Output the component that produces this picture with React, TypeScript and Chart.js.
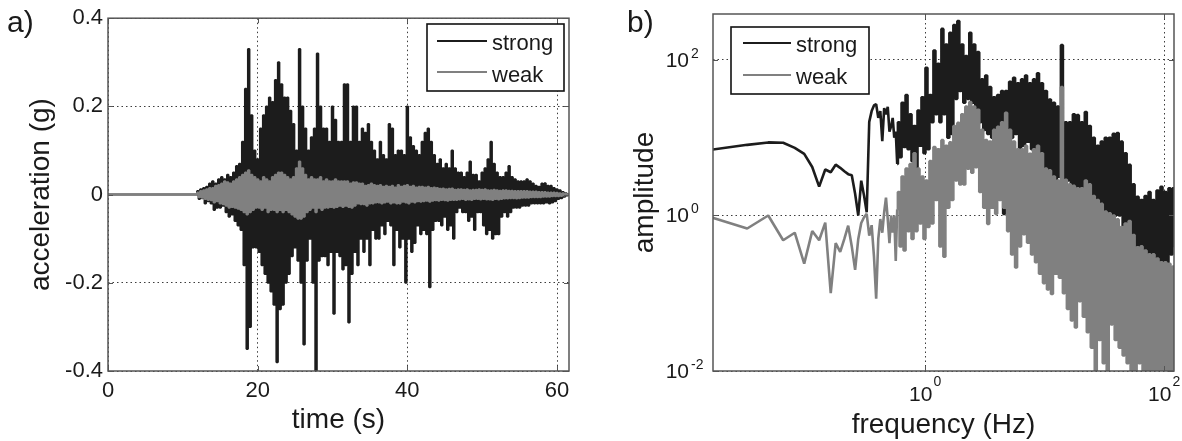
import React, { useEffect, useRef } from "react";
import { Chart, registerables } from "chart.js";

Chart.register(...registerables);

const FONT = '"Liberation Sans", Arial, Helvetica, sans-serif';
const TEXT = "#1a1a1a";
const STRONG_COLOR = "#1c1c1c";
const WEAK_COLOR = "#808080";
const GRID_COLOR = "#3c3c3c";
const FRAME_COLOR = "#555555";

// ---------------- panel a: acceleration time history ----------------
const timeTicks = [0, 20, 40, 60];
const timeTickLabels = ["0", "20", "40", "60"];
const accTicks = [-0.4, -0.2, 0, 0.2, 0.4];
const accTickLabels = ["-0.4", "-0.2", "0", "0.2", "0.4"];

// quiet lead-in before the shaking
const quietTimes = [0, 11.8];
const quietValues = [0, 0];

// samples from 12.0 s, every 0.2 s
const T_START = 12;
const T_STEP = 0.2;

const strongAcc = [
  0.008, -0.01, 0.012, -0.008, 0.015,
  -0.02, 0.018, -0.015, 0.025, -0.02,
  0.03, -0.035, 0.025, -0.03, 0.035,
  -0.03, 0.04, -0.025, 0.035, -0.04,
  0.045, -0.05, 0.04, -0.045, 0.05,
  -0.06, 0.065, -0.07, 0.07, -0.08,
  0.12, -0.16, 0.24, -0.35, 0.33,
  -0.3, 0.18, -0.12, 0.1, -0.12,
  0.08, -0.13, 0.15, -0.16, 0.18,
  -0.18, 0.2, -0.2, 0.22, -0.22,
  0.21, -0.25, 0.26, -0.38, 0.3,
  -0.26, 0.25, -0.25, 0.22, -0.2,
  0.22, -0.18, 0.19, -0.14, 0.16,
  -0.12, 0.1, -0.15, 0.33, -0.2,
  0.2, -0.34, 0.15, -0.15, 0.1,
  -0.1, 0.13, -0.2, 0.15, -0.4,
  0.32, -0.15, 0.2, -0.14, 0.15,
  -0.14, 0.15, -0.16, 0.12, -0.13,
  0.2, -0.27, 0.17, -0.13, 0.12,
  -0.14, 0.12, -0.17, 0.25, -0.16,
  0.25, -0.29, 0.12, -0.18, 0.2,
  -0.13, 0.2, -0.16, 0.12, -0.1,
  0.15, -0.13, 0.14, -0.1, 0.16,
  -0.16, 0.12, -0.08, 0.1, -0.1,
  0.08, -0.1, 0.12, -0.07, 0.09,
  -0.09, 0.08, -0.06, 0.16, -0.07,
  0.15, -0.16, 0.09, -0.08, 0.1,
  -0.12, 0.1, -0.1, 0.09, -0.2,
  0.2, -0.1, 0.13, -0.13, 0.11,
  -0.11, 0.1, -0.07, 0.09, -0.09,
  0.12, -0.08, 0.14, -0.09, 0.15,
  -0.21, 0.12, -0.08, 0.09, -0.06,
  0.07, -0.06, 0.08, -0.07, 0.06,
  -0.05, 0.07, -0.08, 0.06, -0.07,
  0.1, -0.1, 0.06, -0.04, 0.05,
  -0.03, 0.05, -0.04, 0.04, -0.04,
  0.05, -0.06, 0.075, -0.05, 0.045,
  -0.08, 0.045, -0.04, 0.03, -0.04,
  0.05, -0.07, 0.06, -0.09, 0.08,
  -0.08, 0.12, -0.1, 0.07, -0.09,
  0.05, -0.09, 0.04, -0.05, 0.04,
  -0.04, 0.05, -0.05, 0.065, -0.04,
  0.04, -0.03, 0.035, -0.03, 0.03,
  -0.03, 0.03, -0.025, 0.03, -0.025,
  0.035, -0.025, 0.03, -0.02, 0.025,
  -0.02, 0.02, -0.02, 0.018, -0.02,
  0.025, -0.02, 0.026, -0.018, 0.02,
  -0.02, 0.02, -0.018, 0.015, -0.015,
  0.012, -0.01, 0.01, -0.008, 0.006,
  -0.005, 0.003, -0.002, 0,
];

const weakAcc = [
  0.005, -0.006, 0.008, -0.007, 0.01,
  -0.01, 0.012, -0.012, 0.015, -0.013,
  0.015, -0.018, 0.02, -0.015, 0.022,
  -0.02, 0.025, -0.022, 0.03, -0.025,
  0.028, -0.03, 0.025, -0.028, 0.03,
  -0.03, 0.035, -0.032, 0.04, -0.035,
  0.045, -0.04, 0.05, -0.045, 0.055,
  -0.04, 0.045, -0.035, 0.04, -0.03,
  0.035, -0.03, 0.03, -0.035, 0.04,
  -0.03, 0.035, -0.04, 0.03, -0.035,
  0.04, -0.035, 0.045, -0.04, 0.05,
  -0.035, 0.05, -0.04, 0.045, -0.035,
  0.04, -0.04, 0.035, -0.045, 0.04,
  -0.05, 0.06, -0.055, 0.075, -0.055,
  0.06, -0.05, 0.045, -0.04, 0.035,
  -0.035, 0.04, -0.03, 0.035, -0.04,
  0.035, -0.03, 0.04, -0.035, 0.03,
  -0.03, 0.035, -0.03, 0.03, -0.028,
  0.03, -0.03, 0.035, -0.028, 0.03,
  -0.025, 0.03, -0.028, 0.03, -0.025,
  0.03, -0.028, 0.025, -0.03, 0.028,
  -0.025, 0.028, -0.02, 0.025, -0.022,
  0.025, -0.022, 0.02, -0.025, 0.022,
  -0.02, 0.025, -0.02, 0.022, -0.018,
  0.02, -0.018, 0.022, -0.02, 0.018,
  -0.018, 0.02, -0.016, 0.018, -0.02,
  0.02, -0.018, 0.016, -0.02, 0.022,
  -0.02, 0.018, -0.016, 0.02, -0.018,
  0.022, -0.02, 0.018, -0.016, 0.02,
  -0.018, 0.016, -0.015, 0.018, -0.016,
  0.018, -0.015, 0.016, -0.014, 0.018,
  -0.016, 0.015, -0.014, 0.016, -0.013,
  0.015, -0.014, 0.013, -0.012, 0.014,
  -0.013, 0.012, -0.014, 0.013, -0.012,
  0.014, -0.012, 0.011, -0.012, 0.012,
  -0.011, 0.012, -0.01, 0.011, -0.012,
  0.012, -0.011, 0.01, -0.012, 0.011,
  -0.01, 0.011, -0.01, 0.012, -0.011,
  0.011, -0.01, 0.012, -0.011, 0.01,
  -0.011, 0.01, -0.012, 0.011, -0.01,
  0.01, -0.011, 0.009, -0.01, 0.01,
  -0.009, 0.01, -0.009, 0.009, -0.008,
  0.009, -0.008, 0.008, -0.009, 0.008,
  -0.008, 0.008, -0.007, 0.008, -0.007,
  0.008, -0.007, 0.007, -0.006, 0.007,
  -0.006, 0.007, -0.006, 0.006, -0.006,
  0.006, -0.005, 0.006, -0.005, 0.005,
  -0.005, 0.005, -0.004, 0.005, -0.004,
  0.004, -0.004, 0.003, -0.003, 0.003,
  -0.002, 0.002, -0.001, 0,
];

// ---------------- panel b: Fourier amplitude spectra ----------------
const freqTicks = [1, 100];
const freqTickExp = ["0", "2"];
const ampTicks = [0.01, 1, 100];
const ampTickExp = ["-2", "0", "2"];

// low-frequency bins: f = k * DF, k = 1..36
const DF = 1 / 61.6;
const strongLow = [
  7.0, 8.1, 8.7, 8.6, 7.4, 6.2, 4.2, 2.35, 3.9, 3.6, 4.5, 4.1,
  3.7, 3.4, 3.3, 1.9, 1.0, 2.8, 1.8, 1.1, 16, 22, 26, 27,
  18, 22, 9, 24, 20, 25, 12, 14, 18, 10, 12, 4.6,
];
const weakLow = [
  0.95, 0.68, 1.0, 0.48, 0.6, 0.24, 0.63, 0.48, 0.81, 0.1, 0.44, 0.34,
  0.5, 0.74, 0.4, 0.2, 0.5, 0.8, 0.95, 1.05, 0.55, 0.75, 0.3, 0.085,
  0.5, 0.9, 0.6, 1.1, 1.7, 0.9, 0.44, 1.0, 0.6, 1.0, 0.26, 1.2,
];

// dense part, read on a log grid from 0.6 Hz, 60 readings per decade
const F_DENSE_START = 0.6;
const DENSE_PER_DECADE = 60;
const strongHigh = [
  15.8, 5.6, 28.2, 7.6, 35.5, 7.1, 20, 5.0, 14.1, 1.41,
  22.4, 7.9, 33.1, 6.3, 79.4, 7.1, 35.5, 15.8, 132, 20,
  89, 15.8, 251, 20, 158, 10, 224, 11.2, 282, 31.6,
  316, 39.8, 158, 28.2, 112, 31.6, 224, 28.2, 158, 22.4,
  126, 15.8, 56.2, 12.6, 63.1, 11.2, 44.7, 10, 33.1, 12.6,
  35.5, 7.9, 39.8, 1.05, 39.8, 7.6, 52.5, 10, 58.9, 11.2,
  50.1, 5.0, 56.2, 7.9, 63.1, 8.9, 50.1, 7.1, 56.2, 5.6,
  67.6, 5.0, 50.1, 4.0, 39.8, 3.16, 30.9, 2.63, 28.2, 0.4,
  25.1, 3.16, 155, 2.82, 15.8, 2.82, 15.8, 2.24, 20, 2.14,
  19.5, 2.0, 15.8, 1.78, 21.4, 2.0, 14.1, 1.26, 10, 0.78,
  7.9, 1.12, 8.9, 0.79, 10, 0.43, 10, 0.79, 11.2, 1.0,
  11.5, 1.0, 8.9, 0.71, 6.3, 0.5, 4.47, 0.4, 2.51, 0.28,
  1.74, 0.25, 1.58, 0.2, 1.78, 0.148, 2.0, 0.126, 1.58, 0.1,
  2.09, 0.141, 2.34, 0.178, 2.0, 0.224, 2.24, 0.316, 2.24, 0.4,
];
const weakHigh = [
  2.0, 0.4, 3.16, 0.355, 4.0, 0.63, 4.57, 0.5, 6.3, 0.63,
  4.0, 0.79, 3.16, 0.5, 2.82, 0.71, 5.0, 0.79, 7.6, 1.58,
  7.1, 0.4, 9.3, 0.295, 7.9, 1.26, 8.7, 1.58, 14.1, 2.82,
  15.5, 2.51, 20, 2.51, 25.1, 4.0, 28.8, 3.55, 25.1, 4.17,
  22.9, 2.0, 12.6, 1.26, 9.3, 0.78, 8.9, 1.26, 12.6, 1.05,
  13.8, 1.58, 15.8, 1.26, 20.9, 0.63, 12.6, 0.316, 8.9, 0.214,
  7.1, 0.4, 7.1, 0.575, 7.9, 0.447, 6.2, 0.316, 7.1, 0.251,
  7.9, 0.178, 6.3, 0.135, 4.0, 0.112, 3.8, 0.098, 3.16, 0.178,
  2.82, 0.158, 44.7, 0.1, 2.88, 0.063, 2.51, 0.0447, 2.4, 0.0363,
  2.24, 0.079, 2.24, 0.05, 2.82, 0.0316, 2.51, 0.02, 1.78, 0.0079,
  1.58, 0.025, 1.41, 0.0126, 1.12, 0.0079, 1.07, 0.0398, 1.0, 0.025,
  0.89, 0.02, 0.71, 0.0158, 0.79, 0.0126, 0.85, 0.0079, 0.56, 0.01,
  0.39, 0.0126, 0.4, 0.0079, 0.355, 0.005, 0.316, 0.01, 0.316, 0.0063,
  0.28, 0.0079, 0.25, 0.005, 0.25, 0.0079, 0.24, 0.0063, 0.22, 0.0079,
];

type Pt = { x: number; y: number };

function timeSeries(values: number[]): Pt[] {
  const pts: Pt[] = quietTimes.map((t, i) => ({ x: t, y: quietValues[i] }));
  values.forEach((v, i) => pts.push({ x: T_START + i * T_STEP, y: v }));
  return pts;
}

function lowSpectrum(low: number[]): Pt[] {
  return low.map((a, k) => ({ x: (k + 1) * DF, y: a }));
}

function highSpectrum(low: number[], high: number[]): Pt[] {
  const pts: Pt[] = [{ x: low.length * DF, y: low[low.length - 1] }];
  high.forEach((a, i) => pts.push({ x: F_DENSE_START * Math.pow(10, i / DENSE_PER_DECADE), y: a }));
  return pts;
}

// ---------------- decoration plugin (frame, legend, panel letter, log labels) ----------------
interface LegendRow { label: string; color: string; lineY: number; baseY: number }
interface Deco {
  letter: string; letterX: number; letterY: number;
  box: { x: number; y: number; w: number; h: number };
  lineX1: number; lineX2: number; textX: number;
  rows: LegendRow[];
  xTicks: number[]; yTicks: number[];
  logLabels?: boolean;
}

function decoPlugin(d: Deco) {
  return {
    id: "deco",
    afterDraw(chart: any) {
      const ctx: CanvasRenderingContext2D = chart.ctx;
      const a = chart.chartArea;
      const xs = chart.scales.x;
      const ys = chart.scales.y;
      ctx.save();
      // inward tick marks
      ctx.strokeStyle = FRAME_COLOR;
      ctx.lineWidth = 1;
      ctx.setLineDash([]);
      ctx.beginPath();
      for (const v of d.xTicks) {
        const p = Math.round(xs.getPixelForValue(v)) + 0.5;
        ctx.moveTo(p, a.bottom); ctx.lineTo(p, a.bottom - 5);
        ctx.moveTo(p, a.top); ctx.lineTo(p, a.top + 5);
      }
      for (const v of d.yTicks) {
        const p = Math.round(ys.getPixelForValue(v)) + 0.5;
        ctx.moveTo(a.left, p); ctx.lineTo(a.left + 5, p);
        ctx.moveTo(a.right, p); ctx.lineTo(a.right - 5, p);
      }
      ctx.stroke();
      // frame
      ctx.lineWidth = 1.5;
      ctx.strokeRect(a.left, a.top, a.right - a.left, a.bottom - a.top);

      // legend
      ctx.fillStyle = "#ffffff";
      ctx.fillRect(d.box.x, d.box.y, d.box.w, d.box.h);
      ctx.strokeStyle = "#111111";
      ctx.lineWidth = 1.6;
      ctx.strokeRect(d.box.x, d.box.y, d.box.w, d.box.h);
      ctx.font = `22px ${FONT}`;
      ctx.textAlign = "left";
      ctx.textBaseline = "alphabetic";
      for (const r of d.rows) {
        ctx.strokeStyle = r.color;
        ctx.lineWidth = 2;
        ctx.beginPath();
        ctx.moveTo(d.lineX1, r.lineY);
        ctx.lineTo(d.lineX2, r.lineY);
        ctx.stroke();
        ctx.fillStyle = TEXT;
        ctx.fillText(r.label, d.textX, r.baseY);
      }

      // panel letter
      ctx.font = `30px ${FONT}`;
      ctx.fillStyle = TEXT;
      ctx.fillText(d.letter, d.letterX, d.letterY);

      // power-of-ten tick labels
      if (d.logLabels) {
        ctx.textBaseline = "middle";
        freqTicks.forEach((v, i) => {
          const px = xs.getPixelForValue(v);
          ctx.font = `21px ${FONT}`;
          const w10 = ctx.measureText("10").width;
          ctx.font = `14px ${FONT}`;
          const wE = ctx.measureText(freqTickExp[i]).width;
          const x0 = px - (w10 + 1 + wE) / 2;
          ctx.font = `21px ${FONT}`;
          ctx.textAlign = "left";
          ctx.fillText("10", x0, 395);
          ctx.font = `14px ${FONT}`;
          ctx.fillText(freqTickExp[i], x0 + w10 + 1, 382);
        });
        ampTicks.forEach((v, i) => {
          const py = ys.getPixelForValue(v);
          ctx.font = `21px ${FONT}`;
          ctx.textAlign = "right";
          ctx.fillText("10", a.left - 24, py + 1);
          ctx.font = `14px ${FONT}`;
          ctx.textAlign = "left";
          ctx.fillText(ampTickExp[i], a.left - 22, py - 6);
        });
      }
      ctx.restore();
    },
  };
}

const gridOpts = { color: GRID_COLOR, lineWidth: 1, drawTicks: false };
const borderOpts = { display: false, dash: [1.5, 3] };
const lineBase = { pointRadius: 0, borderJoinStyle: "bevel", fill: false };

function configA(): any {
  return {
    type: "line",
    data: {
      datasets: [
        { ...lineBase, label: "strong", data: timeSeries(strongAcc), borderColor: STRONG_COLOR, borderWidth: 2, stepped: "middle", order: 2 },
        { ...lineBase, label: "weak", data: timeSeries(weakAcc), borderColor: WEAK_COLOR, borderWidth: 2, stepped: "middle", order: 1 },
      ],
    },
    options: {
      responsive: false,
      animation: false,
      devicePixelRatio: 1,
      events: [],
      layout: { padding: { left: 0, top: 14, right: 21, bottom: 0 } },
      plugins: { legend: { display: false }, tooltip: { enabled: false } },
      scales: {
        x: {
          type: "linear",
          min: 0,
          max: 61.6,
          afterBuildTicks: (s: any) => { s.ticks = timeTicks.map((v) => ({ value: v })); },
          afterFit: (s: any) => { s.height = 70; },
          ticks: {
            callback: (_v: any, i: number) => timeTickLabels[i],
            font: { family: FONT, size: 22 },
            color: TEXT,
            padding: 7,
            maxRotation: 0,
            autoSkip: false,
          },
          grid: gridOpts,
          border: borderOpts,
          title: { display: true, text: "time (s)", font: { family: FONT, size: 28 }, color: TEXT, padding: { top: 0, bottom: 4 } },
        },
        y: {
          type: "linear",
          min: -0.4,
          max: 0.4,
          afterBuildTicks: (s: any) => { s.ticks = accTicks.map((v) => ({ value: v })); },
          afterFit: (s: any) => { s.width = 108; },
          ticks: {
            callback: (_v: any, i: number) => accTickLabels[i],
            font: { family: FONT, size: 22 },
            color: TEXT,
            padding: 5,
            autoSkip: false,
          },
          grid: gridOpts,
          border: borderOpts,
          title: { display: true, text: "acceleration (g)", font: { family: FONT, size: 28 }, color: TEXT, padding: { top: 24, bottom: 0 } },
        },
      },
    },
    plugins: [
      decoPlugin({
        letter: "a)", letterX: 7, letterY: 32,
        box: { x: 427, y: 24, w: 137, h: 67 },
        lineX1: 437, lineX2: 487, textX: 492,
        rows: [
          { label: "strong", color: STRONG_COLOR, lineY: 41, baseY: 50 },
          { label: "weak", color: WEAK_COLOR, lineY: 72, baseY: 82 },
        ],
        xTicks: timeTicks, yTicks: accTicks,
      }),
    ],
  };
}

function configB(): any {
  return {
    type: "line",
    data: {
      datasets: [
        { ...lineBase, label: "strong", data: lowSpectrum(strongLow), borderColor: STRONG_COLOR, borderWidth: 2.6, order: 4 },
        { ...lineBase, label: "strong", data: highSpectrum(strongLow, strongHigh), borderColor: STRONG_COLOR, borderWidth: 2.6, stepped: "middle", order: 3 },
        { ...lineBase, label: "weak", data: lowSpectrum(weakLow), borderColor: WEAK_COLOR, borderWidth: 2.6, order: 2 },
        { ...lineBase, label: "weak", data: highSpectrum(weakLow, weakHigh), borderColor: WEAK_COLOR, borderWidth: 2.6, stepped: "middle", order: 1 },
      ],
    },
    options: {
      responsive: false,
      animation: false,
      devicePixelRatio: 1,
      events: [],
      layout: { padding: { left: 0, top: 14, right: 8, bottom: 0 } },
      plugins: { legend: { display: false }, tooltip: { enabled: false } },
      scales: {
        x: {
          type: "logarithmic",
          min: 0.0168,
          max: 121,
          afterBuildTicks: (s: any) => { s.ticks = freqTicks.map((v) => ({ value: v })); },
          afterFit: (s: any) => { s.height = 70; },
          ticks: { display: false, autoSkip: false },
          grid: gridOpts,
          border: borderOpts,
          title: { display: true, text: "frequency (Hz)", font: { family: FONT, size: 28 }, color: TEXT, padding: { top: 0, bottom: -1 } },
        },
        y: {
          type: "logarithmic",
          min: 0.01,
          max: 390,
          afterBuildTicks: (s: any) => { s.ticks = ampTicks.map((v) => ({ value: v })); },
          afterFit: (s: any) => { s.width = 123; },
          ticks: { display: false, autoSkip: false },
          grid: gridOpts,
          border: borderOpts,
          title: { display: true, text: "amplitude", font: { family: FONT, size: 28 }, color: TEXT, padding: { top: 38, bottom: 0 } },
        },
      },
    },
    plugins: [
      decoPlugin({
        letter: "b)", letterX: 37, letterY: 32,
        box: { x: 141, y: 27, w: 138, h: 67 },
        lineX1: 153, lineX2: 201, textX: 206,
        rows: [
          { label: "strong", color: STRONG_COLOR, lineY: 43, baseY: 52 },
          { label: "weak", color: WEAK_COLOR, lineY: 75, baseY: 84 },
        ],
        xTicks: freqTicks, yTicks: ampTicks,
        logLabels: true,
      }),
    ],
  };
}

export default function App() {
  const refA = useRef<HTMLCanvasElement>(null);
  const refB = useRef<HTMLCanvasElement>(null);

  useEffect(() => {
    const chartA = new Chart(refA.current as HTMLCanvasElement, configA());
    const chartB = new Chart(refB.current as HTMLCanvasElement, configB());
    return () => {
      chartA.destroy();
      chartB.destroy();
    };
  }, []);

  return (
    <div style={{ position: "fixed", left: 0, top: 0, width: 1182, height: 441, background: "#ffffff", overflow: "hidden" }}>
      <canvas ref={refA} width={590} height={441} style={{ position: "absolute", left: 0, top: 0, width: 590, height: 441 }} />
      <canvas ref={refB} width={592} height={441} style={{ position: "absolute", left: 590, top: 0, width: 592, height: 441 }} />
    </div>
  );
}
